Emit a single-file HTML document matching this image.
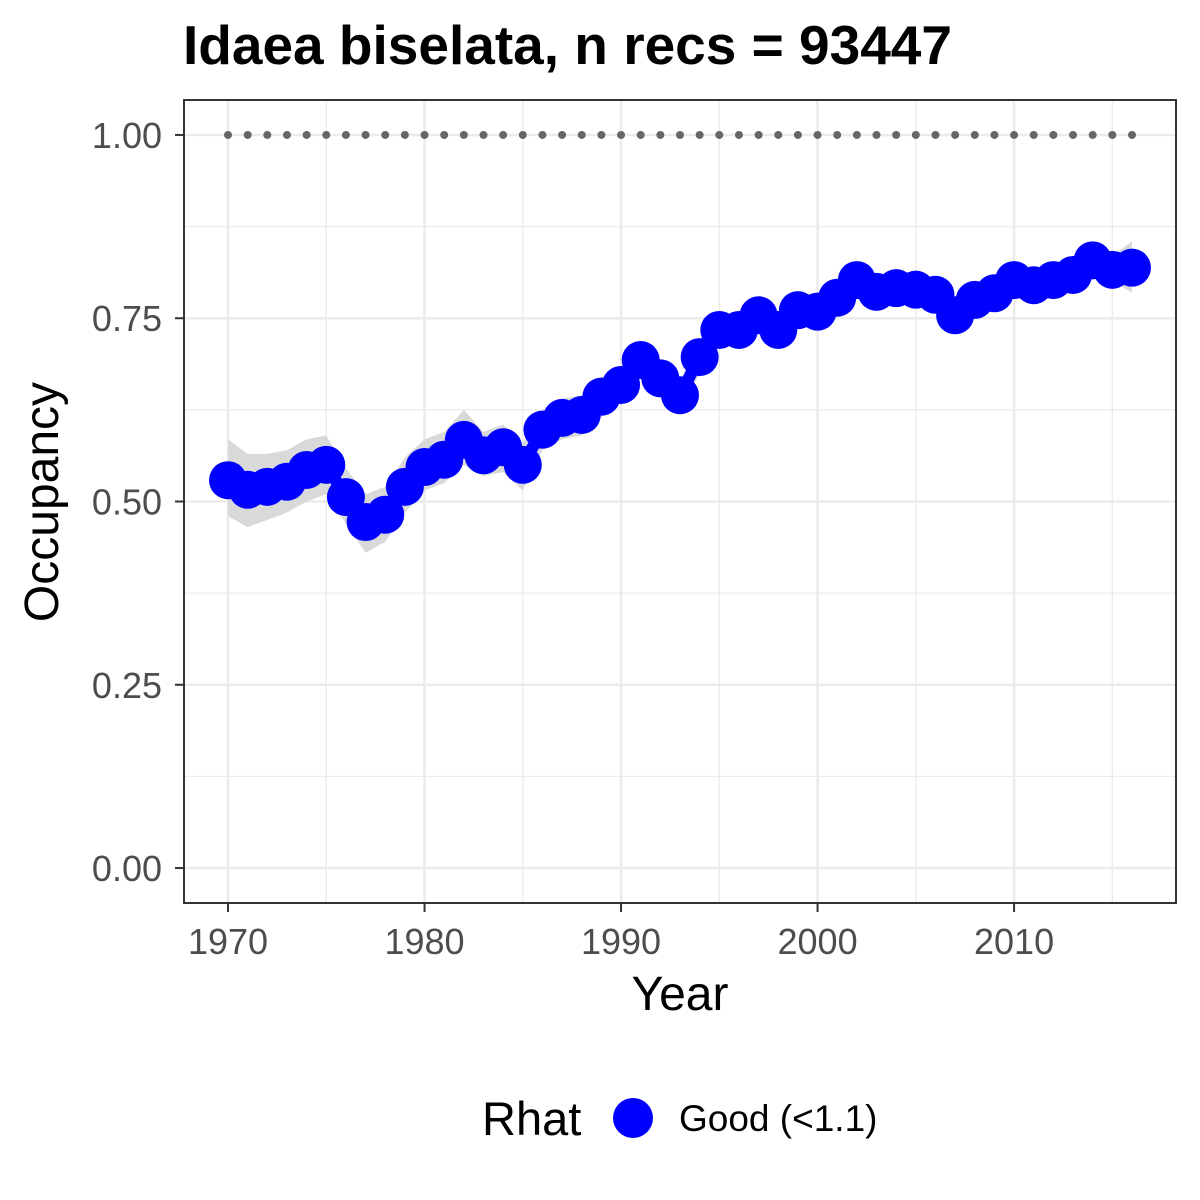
<!DOCTYPE html>
<html><head><meta charset="utf-8"><style>
body{margin:0;background:#fff;}
svg{display:block;font-family:"Liberation Sans",Arial,sans-serif;}
</style></head><body>
<svg id="chart" width="1200" height="1200" viewBox="0 0 1200 1200">
<rect width="1200" height="1200" fill="#fff"/>
<text x="183" y="64" font-size="55" font-weight="bold" fill="#000">Idaea biselata, n recs = 93447</text>
<g id="grid"></g>
<g id="ribbon"></g>
<g id="dots"></g>
<g id="series"></g>
<rect x="184" y="100" width="992" height="803" fill="none" stroke="#333" stroke-width="2"/>
<g id="axes"></g>
<text x="680" y="1010" font-size="48" text-anchor="middle" fill="#000">Year</text>
<text transform="translate(58,502) rotate(-90)" font-size="48" text-anchor="middle" fill="#000">Occupancy</text>
<g>
<text x="482" y="1135" font-size="47" fill="#000">Rhat</text>
<circle cx="633" cy="1118" r="20" fill="#0000ff"/>
<text x="679" y="1131" font-size="37" fill="#000">Good (&lt;1.1)</text>
</g>
</svg>
<script>
const years=[1970,1971,1972,1973,1974,1975,1976,1977,1978,1979,1980,1981,1982,1983,1984,1985,1986,1987,1988,1989,1990,1991,1992,1993,1994,1995,1996,1997,1998,1999,2000,2001,2002,2003,2004,2005,2006,2007,2008,2009,2010,2011,2012,2013,2014,2015,2016];
const occupancy=[0.529,0.516,0.52,0.527,0.543,0.55,0.506,0.472,0.482,0.52,0.547,0.557,0.584,0.563,0.574,0.55,0.598,0.614,0.618,0.643,0.659,0.693,0.668,0.645,0.697,0.734,0.734,0.754,0.734,0.761,0.759,0.778,0.802,0.786,0.791,0.789,0.782,0.754,0.775,0.784,0.802,0.795,0.802,0.809,0.829,0.816,0.819];
const lower=[0.48,0.465,0.475,0.485,0.5,0.51,0.47,0.43,0.445,0.485,0.515,0.525,0.55,0.535,0.54,0.515,0.57,0.585,0.59,0.615,0.635,0.67,0.645,0.62,0.675,0.715,0.715,0.735,0.715,0.745,0.74,0.76,0.785,0.77,0.775,0.775,0.765,0.735,0.76,0.77,0.785,0.78,0.785,0.795,0.81,0.8,0.785];
const upper=[0.585,0.565,0.565,0.57,0.585,0.59,0.545,0.51,0.52,0.56,0.585,0.595,0.625,0.595,0.605,0.58,0.625,0.64,0.645,0.67,0.685,0.715,0.69,0.665,0.72,0.755,0.755,0.775,0.755,0.78,0.78,0.795,0.82,0.8,0.81,0.805,0.8,0.775,0.79,0.8,0.82,0.81,0.82,0.825,0.85,0.835,0.855];
const yTicks=[0,0.25,0.5,0.75,1];
const yTickLabels=["0.00","0.25","0.50","0.75","1.00"];
const xTicks=[1970,1980,1990,2000,2010];
const refLine=1.0;

const NS="http://www.w3.org/2000/svg";
const X0=184,X1=1176,Y0=100,Y1=903;
const xMin=1967.76,xMax=2018.24,yMin=-0.0477,yMax=1.0477;
const sx=v=>X0+(v-xMin)/(xMax-xMin)*(X1-X0);
const sy=v=>Y1-(v-yMin)/(yMax-yMin)*(Y1-Y0);
function mk(tag,attrs,parent){const e=document.createElementNS(NS,tag);for(const k in attrs)e.setAttribute(k,attrs[k]);document.getElementById(parent).appendChild(e);return e;}

for(let i=0;i<yTicks.length;i++){
  const l=mk('line',{x1:X0,x2:X1,y1:sy(yTicks[i]),y2:sy(yTicks[i]),stroke:'#ebebeb','stroke-width':2.5},'grid');
  
  
  if(i<yTicks.length-1){const m=(yTicks[i]+yTicks[i+1])/2;
    const n=mk('line',{x1:X0,x2:X1,y1:sy(m),y2:sy(m),stroke:'#ebebeb','stroke-width':1.3},'grid');
    
    }
}
for(let i=0;i<xTicks.length;i++){
  const l=mk('line',{y1:Y0,y2:Y1,x1:sx(xTicks[i]),x2:sx(xTicks[i]),stroke:'#ebebeb','stroke-width':2.5},'grid');
  
  
  const m=xTicks[i]+5;
  const n=mk('line',{y1:Y0,y2:Y1,x1:sx(m),x2:sx(m),stroke:'#ebebeb','stroke-width':1.3},'grid');
  
  
}
yTicks.forEach((v,i)=>{
  const t=mk('line',{x1:X0-9,x2:X0,y1:sy(v),y2:sy(v),stroke:'#333','stroke-width':2},'axes');
  
  
  const tx=mk('text',{x:X0-22,y:sy(v)+13,'font-size':36,'text-anchor':'end',fill:'#4d4d4d'},'axes');
  tx.textContent=yTickLabels[i];
  
  
});
xTicks.forEach(v=>{
  const t=mk('line',{x1:sx(v),x2:sx(v),y1:Y1,y2:Y1+9,stroke:'#333','stroke-width':2},'axes');
  
  
  const tx=mk('text',{x:sx(v),y:Y1+51,'font-size':36,'text-anchor':'middle',fill:'#4d4d4d'},'axes');
  tx.textContent=String(v);
  
  
});
let d='';
years.forEach((y,i)=>{d+=(i?'L':'M')+sx(y)+','+sy(upper[i]);});
for(let i=years.length-1;i>=0;i--)d+='L'+sx(years[i])+','+sy(lower[i]);
const rib=mk('path',{d:d+'Z',fill:'#d9d9d9'},'ribbon');


years.forEach(y=>{
  const c=mk('circle',{cx:sx(y),cy:sy(refLine),r:4,fill:'#666'},'dots');
  
  
});
const pl=mk('polyline',{points:years.map((y,i)=>sx(y)+','+sy(occupancy[i])).join(' '),fill:'none',stroke:'#0000ff','stroke-width':12,'stroke-linejoin':'round'},'series');


years.forEach((y,i)=>{
  const c=mk('circle',{cx:sx(y),cy:sy(occupancy[i]),r:19,fill:'#0000ff'},'series');
  
  
});
</script>
</body></html>
